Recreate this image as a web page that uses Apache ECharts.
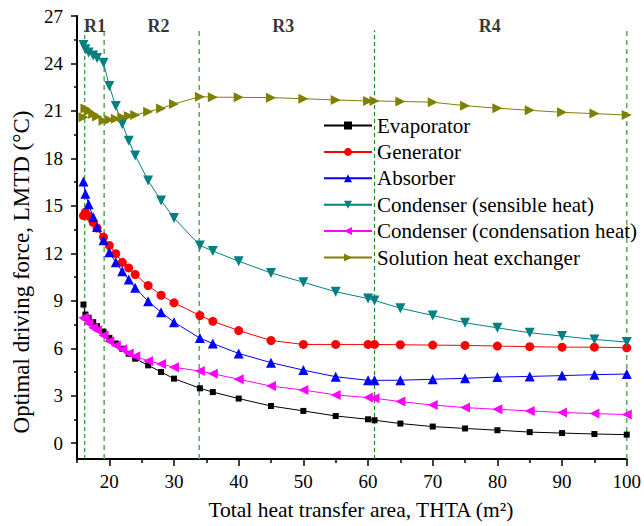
<!DOCTYPE html>
<html><head><meta charset="utf-8">
<script src="https://cdn.jsdelivr.net/npm/echarts@6/dist/echarts.min.js"></script>
<style>html,body{margin:0;padding:0;background:#fff}#c{width:644px;height:526px}</style>
</head><body><div id="c"></div>
<script>
// Total heat transfer area (m2)
const thta = [16.0,16.3,16.8,17.5,18.1,19.1,20,21,22,23,24,26,28,30,34,36,40,45,50,55,60,61,65,70,75,80,85,90,95,100];
const evaporator = [8.76,8.13,7.93,7.65,7.4,7.05,6.66,6.3,5.97,5.65,5.34,4.92,4.5,4.08,3.47,3.23,2.82,2.35,2.04,1.72,1.51,1.45,1.24,1.05,0.93,0.82,0.7,0.64,0.58,0.54];
const generator = [14.38,14.6,14.35,13.95,13.6,13.03,12.5,11.98,11.43,11.08,10.66,9.96,9.35,8.87,8.07,7.7,7.12,6.49,6.24,6.24,6.24,6.24,6.22,6.2,6.18,6.14,6.1,6.07,6.07,6.03];
const absorber = [16.54,15.76,15.1,14.3,13.66,12.82,12.06,11.43,10.86,10.34,9.82,8.97,8.28,7.65,6.64,6.3,5.67,5.09,4.62,4.2,3.97,3.97,3.98,4.04,4.1,4.18,4.22,4.27,4.33,4.37];
const condSensible = [25.16,24.9,24.7,24.5,24.35,24.04,22.57,21.31,20.18,19.12,18.18,16.6,15.34,14.23,12.5,12.15,11.5,10.76,10.17,9.57,9.14,9.02,8.53,8.07,7.61,7.29,6.98,6.77,6.56,6.39];
const condCondensation = [7.93,7.82,7.57,7.3,7.14,6.81,6.45,6.18,5.93,5.67,5.5,5.2,5.0,4.8,4.56,4.39,4.04,3.61,3.36,3.05,2.88,2.84,2.63,2.41,2.25,2.14,2.04,1.94,1.87,1.81];
const solutionHX = [20.6,21.15,21.0,20.8,20.64,20.38,20.45,20.5,20.6,20.68,20.75,20.95,21.16,21.44,21.9,21.87,21.86,21.84,21.77,21.69,21.63,21.63,21.6,21.55,21.33,21.17,21.04,20.91,20.83,20.74];
const seriesNames = ['Evaporator','Generator','Absorber','Condenser (sensible heat)','Condenser (condensation heat)','Solution heat exchanger'];
const xTickLabels = [20,30,40,50,60,70,80,90,100];
const xMinorTicks = [15,25,35,45,55,65,75,85,95];
const yTickLabels = [0,3,6,9,12,15,18,21,24,27];
const yMinorTicks = [1.5,4.5,7.5,10.5,13.5,16.5,19.5,22.5,25.5];
const boundaries = [16.2,19.2,33.9,61,100];
const boundaryTop = 26.1;
const regionNames = ['R1','R2','R3','R4'];
const regionX = [17.8,27.6,46.9,78.8];
const regionY = 26.37;

const FF = "'Liberation Serif','Times New Roman',serif";
const chart = echarts.init(document.getElementById('c'), null, {renderer:'svg'});

function mk(name, vals, color, symbol, size, rot) {
  return {name:name, type:'line', data: thta.map((x,i)=>[x, vals[i]]),
    symbol:symbol, symbolSize:size, symbolRotate:rot||0, showSymbol:true,
    itemStyle:{color:color}, lineStyle:{color:color, width:1}, z:5, animation:false};
}
const bColors = ['#008000','#5cae5c','#5cae5c','#1a8c1a','#5cae5c'];
const bWidths = [1,1.6,1.6,1.2,1.6];
const bDash = [[4,3],[5,4],[5,4],[4,3],[5,4]];
const boundarySeries = boundaries.map((b,i)=>({
  type:'line', data:[[b,-1],[b,boundaryTop]], symbol:'none', silent:true, z:1,
  lineStyle:{color:bColors[i], width:bWidths[i], type:bDash[i]}, animation:false
}));

const option = {
  backgroundColor:'#fff',
  animation:false,
  grid:{left:77, right:17, top:16, bottom:66, containLabel:false},
  xAxis:[{
    type:'value', min:15, max:100, interval:5, position:'bottom',
    axisLine:{show:true, onZero:false, lineStyle:{color:'#000', width:2}},
    axisTick:{show:true, length:7, inside:false, customValues:xTickLabels, lineStyle:{color:'#000', width:1.5}},
    axisLabel:{show:true, customValues:xTickLabels, margin:13, color:'#000', fontFamily:FF, fontSize:19},
    splitLine:{show:false},
    name:'Total heat transfer area, THTA (m²)', nameLocation:'middle', nameGap:40,
    nameTextStyle:{color:'#000', fontFamily:FF, fontSize:21.5, padding:[0,0,0,18]}
  },{
    type:'value', min:15, max:100, interval:5, position:'bottom',
    axisLine:{show:false, onZero:false}, axisLabel:{show:false}, splitLine:{show:false},
    axisTick:{show:true, length:4, customValues:xMinorTicks, lineStyle:{color:'#000', width:1.5}}
  }],
  yAxis:[{
    type:'value', min:-1, max:27, position:'left',
    axisLine:{show:true, onZero:false, lineStyle:{color:'#000', width:2}},
    axisTick:{show:true, length:6, customValues:yTickLabels, lineStyle:{color:'#000', width:1.5}},
    axisLabel:{show:true, customValues:yTickLabels, margin:14, color:'#000', fontFamily:FF, fontSize:19},
    splitLine:{show:false}
  },{
    type:'value', min:-1, max:27, position:'left',
    axisLine:{show:false, onZero:false}, axisLabel:{show:false}, splitLine:{show:false},
    axisTick:{show:true, length:3, customValues:yMinorTicks, lineStyle:{color:'#000', width:1.5}}
  }],
  legend:{
    orient:'vertical', left:323, top:115, itemWidth:48, itemHeight:10, itemGap:5.4,
    data:seriesNames, textStyle:{color:'#000', fontFamily:FF, fontSize:21}, padding:0
  },
  graphic:[{
    type:'text', x:21, y:272, rotation:Math.PI/2,
    style:{text:'Optimal driving force, LMTD (°C)', fill:'#000', fontFamily:FF, fontSize:23,
      textAlign:'center', textVerticalAlign:'middle', align:'center', verticalAlign:'middle'}
  }],
  series:[
    ...boundarySeries,
    {type:'scatter', data:regionX.map((x,i)=>({name:regionNames[i], value:[x, regionY]})), symbolSize:0, silent:true, z:6,
      label:{show:true, position:'inside', formatter:'{b}', color:'#000', fontFamily:FF, fontSize:18, fontWeight:'bold'}},
    mk(seriesNames[0], evaporator, '#000000', 'rect', 6, 0),
    mk(seriesNames[1], generator, '#ff0000', 'circle', 9, 0),
    mk(seriesNames[2], absorber, '#0000ff', 'triangle', 10, 0),
    mk(seriesNames[3], condSensible, '#008080', 'triangle', 10, 180),
    mk(seriesNames[4], condCondensation, '#ff00ff', 'triangle', 10, 90),
    mk(seriesNames[5], solutionHX, '#808000', 'triangle', 10, -90)
  ]
};
chart.setOption(option);
</script></body></html>
